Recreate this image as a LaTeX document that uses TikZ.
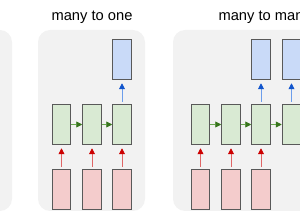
\documentclass[tikz,border=0pt]{standalone}
\usepackage{fontspec}
\setmainfont{Liberation Sans}
\usetikzlibrary{arrows.meta}
\definecolor{panelgray}{HTML}{F2F2F2}
\definecolor{cellborder}{HTML}{595959}
\definecolor{inred}{HTML}{F4CCCC}
\definecolor{hidgreen}{HTML}{D9EAD3}
\definecolor{outblue}{HTML}{C9DAF8}
\definecolor{redline}{HTML}{E06666}
\definecolor{redtip}{HTML}{CC0000}
\definecolor{greenline}{HTML}{6AA84F}
\definecolor{greentip}{HTML}{38761D}
\definecolor{blueline}{HTML}{6D9EEB}
\definecolor{bluetip}{HTML}{1155CC}

\begin{document}
\begin{tikzpicture}[
    x=1pt, y=-1pt,
    panel/.style={fill=panelgray,rounded corners=12pt},
    cell/.style={draw=cellborder,line width=1pt,minimum width=18.5pt,
                 minimum height=40.5pt,inner sep=0pt},
    incell/.style={cell,fill=inred},
    hidcell/.style={cell,fill=hidgreen},
    outcell/.style={cell,fill=outblue},
    inarrow/.style={-{Triangle[length=6pt,width=6pt,color=redtip]},redline,
                    line width=0.9pt,shorten <=2pt,shorten >=3pt},
    outarrow/.style={-{Triangle[length=6pt,width=6pt,color=bluetip]},blueline,
                     line width=0.9pt,shorten <=2pt,shorten >=3pt},
    recarrow/.style={-{Triangle[length=6pt,width=6pt,color=greentip]},greenline,
                     line width=0.9pt},
    title/.style={font=\fontsize{14.7}{16}\selectfont,anchor=base},
  ]
  \useasboundingbox (0,0) rectangle (300,213);
  \clip (0,0) rectangle (300,213);

  % --- panel backgrounds ---
  \fill[panel] (-100,30) rectangle (12,211);
  \fill[panel] (38,30) rectangle (145,211);
  \fill[panel] (173,30) rectangle (420,211);

  % --- many to one ---
  \node[title] (ttlone) at (92,21) {many to one};
  \foreach \i/\cx in {1/61.5,2/92,3/122} {
    \node[incell]  (ox\i) at (\cx,189.5) {};
    \node[hidcell] (oh\i) at (\cx,124.5) {};
    \draw[inarrow] (ox\i) -- (oh\i);
  }
  \node[outcell] (oy3) at (122,59.5) {};
  \draw[outarrow] (oh3) -- (oy3);
  \draw[recarrow] (oh1) -- (oh2);
  \draw[recarrow] (oh2) -- (oh3);

  % --- many to many ---
  \node[title,anchor=base west] (ttlmany) at (215,21) {many to many};
  \foreach \i/\cx in {1/200.5,2/231,3/261} {
    \node[incell]  (mx\i) at (\cx,189.5) {};
    \node[hidcell] (mh\i) at (\cx,124.5) {};
    \draw[inarrow] (mx\i) -- (mh\i);
  }
  \node[hidcell] (mh4) at (291.5,124.5) {};
  \foreach \i/\cx in {3/261,4/291.5} {
    \node[outcell] (my\i) at (\cx,59.5) {};
    \draw[outarrow] (mh\i) -- (my\i);
  }
  \draw[recarrow] (mh1) -- (mh2);
  \draw[recarrow] (mh2) -- (mh3);
  \draw[recarrow] (mh3) -- (mh4);

\end{tikzpicture}
\end{document}
